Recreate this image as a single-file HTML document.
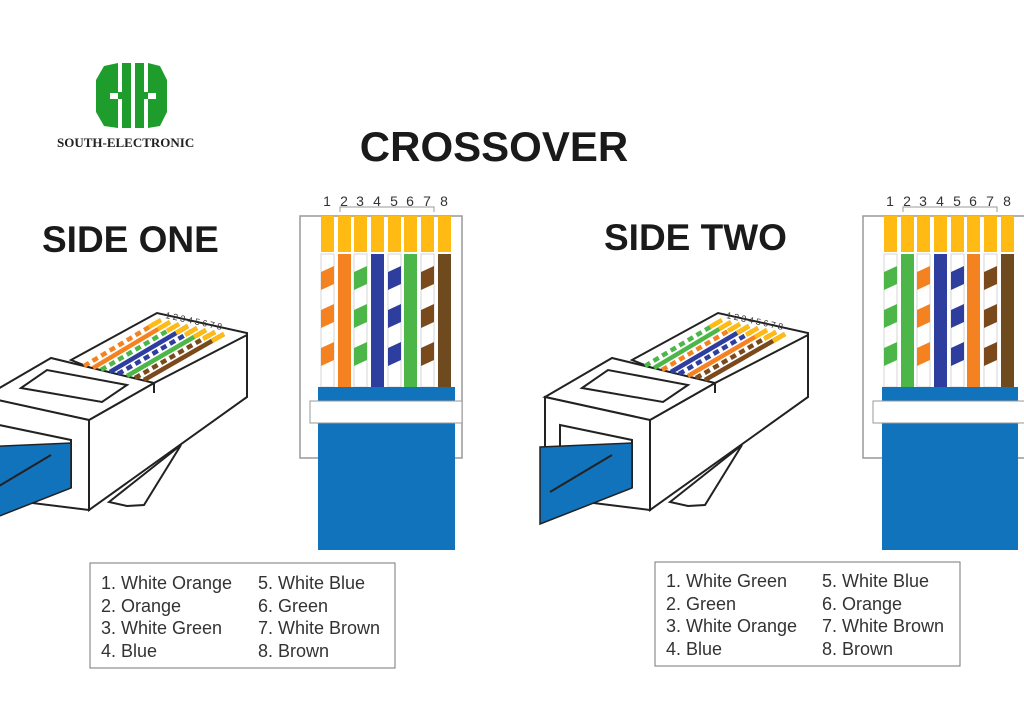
<!DOCTYPE html><html><head><style>body{margin:0;background:#fff}svg{display:block}</style></head><body>
<svg width="1024" height="726" viewBox="0 0 1024 726" xmlns="http://www.w3.org/2000/svg" font-family="Liberation Sans, sans-serif">
<defs>
<g id="plug">
<polygon points="632,360 718,313 808,333 808,397 740,440 713,392" fill="#fff" stroke="#222" stroke-width="2"/>
<polygon points="670,502 742,445 705,505 688,506" fill="#fff" stroke="#222" stroke-width="2"/>
<polygon points="650,420 715,383 808,335 808,397 650,510" fill="#fff" stroke="#222" stroke-width="2"/>
<line x1="715" y1="383" x2="715" y2="393" stroke="#222" stroke-width="2"/>
<polygon points="545,397 612,358 715,383 650,420" fill="#fff" stroke="#222" stroke-width="2"/>
<polygon points="582,388 608,370 688,385 663,402" fill="#fff" stroke="#222" stroke-width="2"/>
<polygon points="545,397 650,420 650,510 545,497" fill="#fff" stroke="#222" stroke-width="2"/>
<polygon points="560,425 632,440 632,487 560,478" fill="#fff" stroke="#222" stroke-width="2"/>
<polygon points="540,447 632,443 632,488 540,524" fill="#1173bb" stroke="#222" stroke-width="1.5"/>
<line x1="550" y1="492" x2="612" y2="455" stroke="#222" stroke-width="2"/>
</g>
<g id="wires1" stroke-width="4.5">
<line x1="645" y1="366" x2="722" y2="320" stroke-dasharray="6 4" stroke="#f58220"/>
<line x1="654" y1="368" x2="731" y2="322" stroke="#f58220"/>
<line x1="662" y1="370" x2="740" y2="324" stroke-dasharray="6 4" stroke="#4cb748"/>
<line x1="671" y1="372" x2="749" y2="326" stroke="#2e3e9e"/>
<line x1="679" y1="374" x2="758" y2="328" stroke-dasharray="6 4" stroke="#2e3e9e"/>
<line x1="688" y1="376" x2="767" y2="330" stroke="#4cb748"/>
<line x1="696" y1="378" x2="776" y2="332" stroke-dasharray="6 4" stroke="#7a4a1c"/>
<line x1="705" y1="380" x2="785" y2="334" stroke="#7a4a1c"/>
</g>
<g id="tips" stroke="#ffba14" stroke-width="4.5">
<line x1="710" y1="327" x2="722" y2="320"/><line x1="719" y1="329" x2="731" y2="322"/><line x1="728" y1="331" x2="740" y2="324"/><line x1="737" y1="333" x2="749" y2="326"/><line x1="746" y1="335" x2="758" y2="328"/><line x1="755" y1="337" x2="767" y2="330"/><line x1="764" y1="339" x2="776" y2="332"/><line x1="773" y1="341" x2="785" y2="334"/>
</g>
<g id="str"><polygon points="321,272 334,266 334,284 321,290"/><polygon points="321,310 334,304 334,322 321,328"/><polygon points="321,348 334,342 334,360 321,366"/></g>
</defs>
<!-- logo -->
<g fill="#1e9c2c">
<path d="M104,66 L118,63 L118,93 L110,93 L110,99 L118,99 L118,128 L104,126 L96,112 L96,80 Z"/>
<rect x="122" y="63" width="9" height="65"/>
<rect x="135" y="63" width="9" height="65"/>
<path d="M148,63 L160,66 L167,80 L167,112 L160,126 L148,128 L148,99 L156,99 L156,93 L148,93 Z"/>
<rect x="118" y="92" width="4" height="7"/><rect x="144" y="92" width="4" height="7"/>
</g>
<text x="57" y="147" font-family="Liberation Serif, serif" font-weight="bold" font-size="13" fill="#222">SOUTH-ELECTRONIC</text>
<text x="494" y="161" text-anchor="middle" font-weight="bold" font-size="42" fill="#1a1a1a">CROSSOVER</text>
<text x="42" y="252" font-weight="bold" font-size="37" fill="#1a1a1a">SIDE ONE</text>
<text x="604" y="250" font-weight="bold" font-size="37" fill="#1a1a1a">SIDE TWO</text>
<!-- side one plug -->
<g transform="translate(-561,0)">
<use href="#plug"/>
<use href="#wires1"/>
<use href="#tips"/>
<text x="726" y="318" font-size="9" fill="#333" transform="rotate(12 726 318)">1 2 3 4 5 6 7 8</text>
</g>
<!-- side two plug -->
<use href="#plug"/>
<g stroke-width="4.5">
<line x1="645" y1="366" x2="722" y2="320" stroke-dasharray="6 4" stroke="#4cb748"/>
<line x1="654" y1="368" x2="731" y2="322" stroke="#4cb748"/>
<line x1="662" y1="370" x2="740" y2="324" stroke-dasharray="6 4" stroke="#f58220"/>
<line x1="671" y1="372" x2="749" y2="326" stroke="#2e3e9e"/>
<line x1="679" y1="374" x2="758" y2="328" stroke-dasharray="6 4" stroke="#2e3e9e"/>
<line x1="688" y1="376" x2="767" y2="330" stroke="#f58220"/>
<line x1="696" y1="378" x2="776" y2="332" stroke-dasharray="6 4" stroke="#7a4a1c"/>
<line x1="705" y1="380" x2="785" y2="334" stroke="#7a4a1c"/>
</g>
<use href="#tips"/>
<text x="726" y="318" font-size="9" fill="#333" transform="rotate(12 726 318)">1 2 3 4 5 6 7 8</text>
<!-- front view 1 -->
<g>
<rect x="300" y="216" width="162" height="242" fill="#fff" stroke="#999" stroke-width="1.5"/>
<path d="M340,212 V207 H434 V212" fill="none" stroke="#999"/>
<g font-size="14" fill="#333" text-anchor="middle">
<text x="327" y="206">1</text><text x="344" y="206">2</text><text x="360" y="206">3</text><text x="377" y="206">4</text><text x="394" y="206">5</text><text x="410" y="206">6</text><text x="427" y="206">7</text><text x="444" y="206">8</text></g>
<g fill="#ffba14"><rect x="321" y="216" width="13" height="36"/><rect x="338" y="216" width="13" height="36"/><rect x="354" y="216" width="13" height="36"/><rect x="371" y="216" width="13" height="36"/><rect x="388" y="216" width="13" height="36"/><rect x="404" y="216" width="13" height="36"/><rect x="421" y="216" width="13" height="36"/><rect x="438" y="216" width="13" height="36"/></g>
<g stroke="#ccc" stroke-width="0.8"><rect x="321" y="254" width="13" height="133" fill="#fff"/><rect x="354" y="254" width="13" height="133" fill="#fff"/><rect x="388" y="254" width="13" height="133" fill="#fff"/><rect x="421" y="254" width="13" height="133" fill="#fff"/></g>
<rect x="338" y="254" width="13" height="133" fill="#f58220"/><rect x="371" y="254" width="13" height="133" fill="#2e3e9e"/><rect x="404" y="254" width="13" height="133" fill="#4cb748"/><rect x="438" y="254" width="13" height="133" fill="#6e4a1e"/>
<use href="#str" fill="#f58220"/>
<use href="#str" fill="#4cb748" transform="translate(33,0)"/>
<use href="#str" fill="#2e3e9e" transform="translate(67,0)"/>
<use href="#str" fill="#7a4a1c" transform="translate(100,0)"/>
<rect x="318" y="387" width="137" height="163" fill="#1173bb"/>
<rect x="310" y="401" width="152" height="22" fill="#fff" stroke="#999"/>
</g>
<!-- front view 2 -->
<g transform="translate(563,0)">
<rect x="300" y="216" width="170" height="242" fill="#fff" stroke="#999" stroke-width="1.5"/>
<path d="M340,212 V207 H434 V212" fill="none" stroke="#999"/>
<g font-size="14" fill="#333" text-anchor="middle">
<text x="327" y="206">1</text><text x="344" y="206">2</text><text x="360" y="206">3</text><text x="377" y="206">4</text><text x="394" y="206">5</text><text x="410" y="206">6</text><text x="427" y="206">7</text><text x="444" y="206">8</text></g>
<g fill="#ffba14"><rect x="321" y="216" width="13" height="36"/><rect x="338" y="216" width="13" height="36"/><rect x="354" y="216" width="13" height="36"/><rect x="371" y="216" width="13" height="36"/><rect x="388" y="216" width="13" height="36"/><rect x="404" y="216" width="13" height="36"/><rect x="421" y="216" width="13" height="36"/><rect x="438" y="216" width="13" height="36"/></g>
<g stroke="#ccc" stroke-width="0.8"><rect x="321" y="254" width="13" height="133" fill="#fff"/><rect x="354" y="254" width="13" height="133" fill="#fff"/><rect x="388" y="254" width="13" height="133" fill="#fff"/><rect x="421" y="254" width="13" height="133" fill="#fff"/></g>
<rect x="338" y="254" width="13" height="133" fill="#4cb748"/><rect x="371" y="254" width="13" height="133" fill="#2e3e9e"/><rect x="404" y="254" width="13" height="133" fill="#f58220"/><rect x="438" y="254" width="13" height="133" fill="#6e4a1e"/>
<use href="#str" fill="#4cb748"/>
<use href="#str" fill="#f58220" transform="translate(33,0)"/>
<use href="#str" fill="#2e3e9e" transform="translate(67,0)"/>
<use href="#str" fill="#7a4a1c" transform="translate(100,0)"/>
<rect x="319" y="387" width="136" height="163" fill="#1173bb"/>
<rect x="310" y="401" width="160" height="22" fill="#fff" stroke="#999"/>
</g>
<!-- legends -->
<g font-size="18" fill="#333">
<rect x="90" y="563" width="305" height="105" fill="#fff" stroke="#777"/>
<text x="101" y="589">1. White Orange</text><text x="101" y="612">2. Orange</text><text x="101" y="634">3. White Green</text><text x="101" y="657">4. Blue</text>
<text x="258" y="589">5. White Blue</text><text x="258" y="612">6. Green</text><text x="258" y="634">7. White Brown</text><text x="258" y="657">8. Brown</text>
<rect x="655" y="562" width="305" height="104" fill="#fff" stroke="#777"/>
<text x="666" y="587">1. White Green</text><text x="666" y="610">2. Green</text><text x="666" y="632">3. White Orange</text><text x="666" y="655">4. Blue</text>
<text x="822" y="587">5. White Blue</text><text x="822" y="610">6. Orange</text><text x="822" y="632">7. White Brown</text><text x="822" y="655">8. Brown</text>
</g>
</svg>
</body></html>
